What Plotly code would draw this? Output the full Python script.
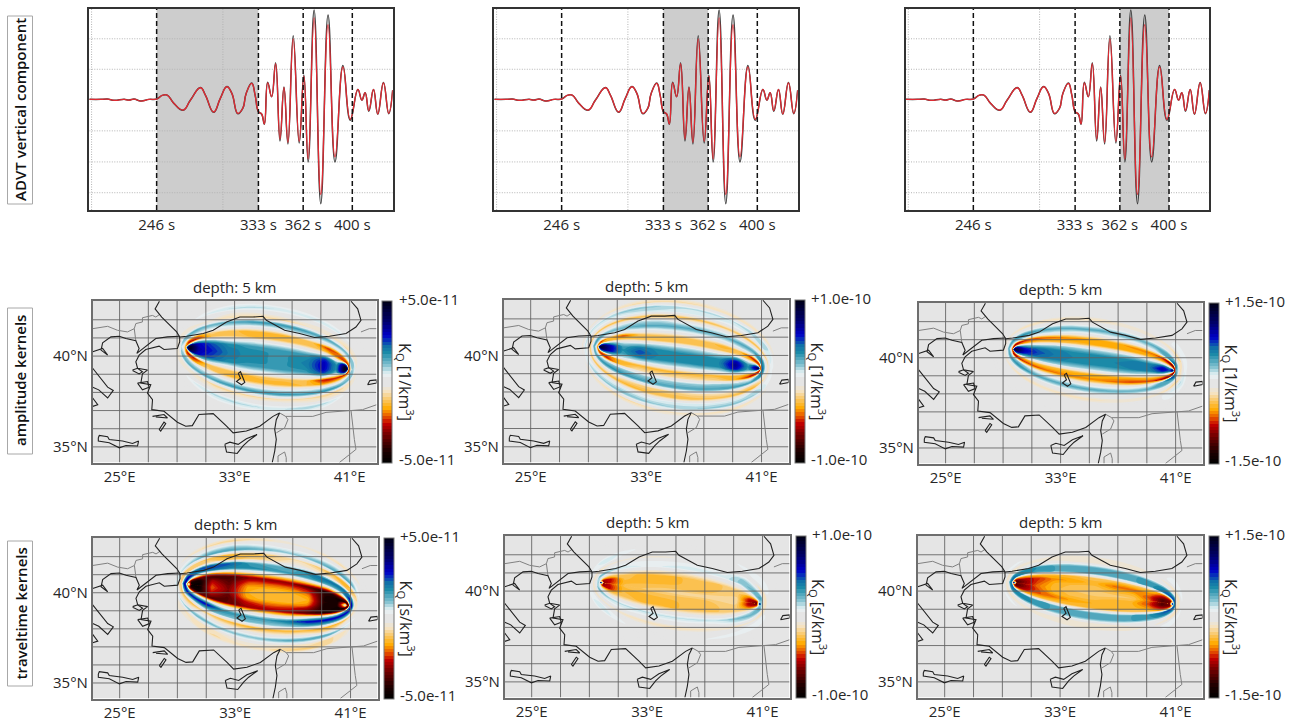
import numpy as np
import plotly.graph_objects as go

W, H = 1294, 721
FONT = "Open Sans"
TXT = "#262626"

# ---------- waveform ----------
wave_t = [0,11.7,18.3,25,35,40,45,51.7,60,67.7,73.3,78.3,85,94.3,101.7,111.7,116.7,125,131.7,138.3,143.3,149.3,154.3,157.7,163.3,166.7,170,173.3,176,179.3,183.3,187.3,191.7,195.7,199.7,205,211,215.7,220,226,232.7,240,247,255,262.3,270,274,277.3,281,285.7,290,295.7,301,305]
synth_amp = [0,0,.3,-1,0,-.7,.3,-1.7,0,.3,4,4.3,-4,-10.7,-.7,11.7,4.3,-12.7,1,12.7,6,-14,-9,6,16,4.3,-12.3,-14.7,-24.7,16.7,2.7,36,-40,12,-43.3,61,-42.3,23.3,-60,82,-95.7,75.3,-58,32.7,-20,10,-.7,6.7,-11.3,10,-14.7,16.7,-14,9.3]
data_amp = [0,0,.3,-1,0,-.7,.3,-1.7,0,.3,4,4.3,-4,-11,-.7,12,4.3,-13,1,13,6,-14.5,-9,6,16.5,4.3,-12.3,-15,-25,17.3,2.7,37,-42,12.5,-45,64,-44,24.5,-63,90,-105,85,-63,34,-21,10,-.7,6.7,-12,10,-15,17,-14.5,9.3]
window_t = [67.7, 170, 215, 264.4]
window_labels = ["246 s", "333 s", "362 s", "400 s"]
wave_grid_amp = [61, 30.3, -31.7, -63, -94]
wave_grid_t = [2.3, 134.3]
shaded_windows = [(0, 1), (1, 2), (2, 3)]

# ---------- map lines, lon/lat ----------
coast_dark = [
 [(27.77,43.02),(27.47,42.6),(27.93,42.15),(28.51,41.69),(28.97,41.33),(29.18,41.05),(29.67,41.09),(30.82,41.24),(31.51,41.42),(32.44,41.88),(33.36,42.15),(34.28,42.15),(34.98,42.19),(35.21,41.97),(35.9,41.69),(36.48,41.42),(37.52,41.24),(38.56,41.02),(39.6,41.09),(40.75,41.24),(41.44,41.6),(41.79,41.97),(41.56,42.6),(41.1,43.02)],
 [(29.18,41.05),(29.18,40.78),(29.02,40.42),(28.09,40.36),(27.75,40.55),(27.29,40.47),(26.82,40.36),(26.36,40.05),(26.13,39.69),(26.25,39.33),(26.94,39.23),(26.59,39.02),(26.48,38.51),(27.17,38.42),(26.94,37.96),(27.29,37.6),(27.24,37.05),(28.09,36.96),(28.56,36.68),(29.02,36.36),(29.6,36.14),(30.06,36.17),(30.52,36.78),(31.21,36.83),(31.51,36.83),(32.44,36.14),(32.9,35.77),(33.82,35.87),(34.75,36.14),(35.67,36.68),(36.13,36.87),(35.9,36.5),(35.79,35.96),(35.9,35.41),(35.79,34.77),(35.62,34.14)],
 [(29.18,41.09),(28.33,41.06),(27.52,40.97),(26.94,40.6),(26.59,40.42),(26.2,40.15),(26.36,40.42),(26.13,40.84),(25.44,40.97),(24.98,41.09),(24.4,41.06),(23.82,40.73),(23.71,40.33),(24.17,40.05),(23.82,40.42),(23.13,40.24)],
 [(23.13,39.33),(23.48,38.96),(24.17,38.29),(24.56,38.11),(24.17,37.69),(23.55,38.14),(23.13,38.29)],
 [(23.13,37.69),(23.48,37.32),(23.13,37.23)],
 [(25.9,39.23),(26.25,39.33),(26.59,39.14),(26.36,39.02),(25.9,39.2)],
 [(26.25,38.51),(26.94,38.6),(27.06,38.29),(26.59,38.14),(26.25,38.51)],
 [(27.29,36.68),(28.09,36.78),(28.33,36.59),(27.52,36.65)],
 [(27.75,35.96),(28.09,36.36),(28.21,36.28),(27.86,35.87),(27.75,35.96)],
 [(23.52,35.5),(23.59,35.63),(24.17,35.56),(24.28,35.41),(25.21,35.32),(25.9,35.19),(26.32,35.32),(26.25,35.05),(25.44,35.08),(24.98,34.95),(24.28,35.23),(23.52,35.32),(23.52,35.5)],
 [(32.32,35.14),(32.44,34.72),(33.18,34.64),(33.59,35.05),(33.94,35.32),(34.56,35.68),(33.82,35.45),(33.25,35.14),(32.67,35.26),(32.32,35.14)],
 [(33.25,39.05),(33.41,38.78),(33.13,38.6),(33.48,38.42),(33.71,38.55),(33.41,39.14),(33.25,39.05)],
 [(42.25,38.42),(42.87,38.51),(42.87,38.69),(42.41,38.65),(42.25,38.42)],
]
border_grey = [
 [(23.13,41.51),(24.17,41.64),(24.86,41.42),(25.55,41.33),(26.02,41.51),(26.13,41.79),(26.59,41.88),(26.59,42.11),(27.29,42.24),(27.52,42.15),(27.8,42.3)],
 [(26.02,41.51),(26.13,40.84)],
 [(36.13,36.87),(36.55,36.68),(36.71,36.5),(36.48,36.05),(35.9,35.77)],
 [(36.55,36.68),(37.52,36.68),(38.44,36.68),(39.36,36.9),(40.75,36.96),(41.9,37.05),(42.87,37.32)],
 [(41.1,37.0),(41.21,36.14),(41.33,35.41),(41.44,34.86),(40.29,34.14)],
 [(36.02,34.14),(36.02,34.5),(36.48,34.72),(36.59,34.41),(36.59,34.14)],
 [(41.79,41.33),(42.37,41.51),(42.87,41.51)],
]
grid_lon = [25,27,29,31,33,35,37,39,41]
grid_lat = [35,36,37,38,39,40,41,42]

# ---------- kernels: value in percent of clip, on confocal (Fresnel-zone) rows
# rows: distance from ray at mid-path; columns: stations from source to receiver.
A_top = [
 [95,95,65,55,42,36,34,34,40,62,35,95,95],
 [95,95,62,52,40,36,34,34,38,60,35,95,95],
 [85,80,60,48,36,32,30,30,32,50,25,90,80],
 [40,-10,25,18,5,8,8,8,6,12,-10,40,-20],
 [-30,-55,-50,-25,-22,-26,-25,-24,-22,-28,-45,-55,-55],
 [-20,-35,-35,-20,-24,-28,-28,-26,-24,-48,-40,-25,-15],
 [8,18,15,10,8,5,5,8,8,5,8,20,18],
 [15,25,28,25,28,32,33,33,30,28,25,22,15],
 [-5,-8,-10,-8,-14,-16,-16,-15,-10,-12,-15,-10,-5],
 [-8,-8,-5,-2,-5,-5,-2,0,-5,-5,-8,-6,-3],
 [3,3,4,10,14,16,14,12,14,12,5,3,2],
 [0,0,0,2,3,2,2,3,2,2,0,0,0],
 [0,0,0,0,0,0,0,0,0,0,0,0,0]]
A_bot = [
 [95,62,52,40,36,34,34,38,60,35,95],
 [80,60,48,36,32,30,30,32,50,25,90],
 [-10,25,18,5,8,8,8,6,12,-10,40],
 [-55,-50,-25,-24,-26,-25,-25,-24,-52,-50,-55],
 [-35,-35,-20,-26,-28,-28,-28,-26,-35,-30,-25],
 [18,15,12,8,5,5,8,8,8,10,20],
 [25,28,28,32,33,33,33,32,35,30,22],
 [-8,-10,-12,-18,-16,-16,-15,-15,-18,-15,-10],
 [-8,-5,-5,-5,-2,0,0,-5,-8,-12,-6],
 [3,4,12,16,16,14,14,18,15,5,3],
 [0,0,2,5,3,2,3,5,2,0,0],
 [0,0,0,0,0,0,0,0,0,0,0]]
B_top = [
 [95,90,65,35,50,38,36,36,38,70,35,75,95],
 [95,85,62,30,42,36,34,34,34,62,30,60,90],
 [60,50,30,15,15,15,15,14,15,30,10,20,50],
 [-10,-30,-25,-20,-22,-24,-24,-24,-24,-20,-28,-40,-65],
 [-35,-50,-30,-45,-24,-23,-24,-23,-28,-26,-50,-50,-25],
 [5,15,5,5,5,5,5,5,5,10,10,35,50],
 [30,32,25,25,28,28,28,28,25,30,30,36,25],
 [5,5,5,10,15,15,8,8,8,5,5,5,0],
 [-22,-22,-25,-26,-26,-26,-24,-24,-22,-25,-26,-18,-12],
 [0,5,8,8,12,12,10,10,8,8,15,12,8],
 [15,15,15,18,20,18,15,15,14,18,18,10,5],
 [-8,-8,-8,-12,-15,-15,-15,-14,-14,-14,-12,-6,-4],
 [0,0,0,0,0,0,0,0,0,0,0,0,0]]
B_bot = [
 [85,62,30,42,36,34,34,34,62,30,60],
 [50,30,15,12,10,8,8,10,22,10,20],
 [-30,-40,-28,-28,-28,-28,-28,-28,-26,-32,-45],
 [-50,-50,-28,-15,-15,-15,-15,-18,-30,-50,-55],
 [10,15,20,20,18,18,18,20,15,10,30],
 [30,35,35,32,30,30,30,30,32,30,36],
 [0,0,-5,-15,-18,-18,-15,-12,-10,-15,-5],
 [-22,-25,-26,-28,-26,-26,-24,-24,-26,-28,-14],
 [5,8,10,10,8,10,10,10,10,15,8],
 [12,18,20,22,20,18,18,20,20,18,8],
 [-6,-10,-14,-15,-14,-12,-12,-14,-14,-10,-4],
 [0,0,0,0,0,0,0,0,0,0,0]]
C_top = [
 [95,90,62,50,42,38,38,38,40,42,65,50,95],
 [95,80,55,45,40,36,36,36,38,38,52,40,92],
 [60,45,25,20,20,18,15,15,15,10,12,0,45],
 [-50,-45,-32,-24,-26,-28,-30,-30,-30,-28,-33,-50,-60],
 [-30,-60,-50,-45,-40,-36,-33,-33,-36,-40,-55,-70,-40],
 [5,15,20,10,8,3,2,5,5,10,30,50,25],
 [28,32,35,30,28,28,28,26,25,28,30,25,15],
 [5,8,5,2,2,2,2,2,3,2,0,-12,-15],
 [-10,-10,-12,-14,-12,-12,-12,-10,-10,-10,-15,-15,-5],
 [-2,0,2,3,2,0,0,0,0,2,8,10,10],
 [3,3,5,5,3,2,0,0,0,2,8,8,5],
 [0,0,0,0,0,0,0,0,0,0,2,2,0],
 [0,0,0,0,0,0,0,0,0,0,0,0,0]]
C_bot = [
 [80,55,45,40,36,36,36,38,38,52,40],
 [45,25,20,20,18,15,15,15,10,12,0],
 [-45,-32,-24,-26,-28,-30,-30,-30,-28,-33,-50],
 [-60,-50,-45,-40,-38,-36,-40,-46,-46,-60,-70],
 [15,20,10,5,3,0,2,3,8,30,55],
 [32,35,30,28,28,28,26,25,28,30,30],
 [8,5,2,2,2,2,2,3,2,0,-12],
 [-10,-12,-14,-12,-12,-12,-10,-10,-10,-15,-15],
 [0,2,3,2,0,0,0,0,2,10,15],
 [3,5,5,3,2,0,0,0,2,10,10],
 [0,0,0,0,0,0,0,0,0,3,2],
 [0,0,0,0,0,0,0,0,0,0,0]]
D_top = [
 [20,-95,-95,-42,-62,-30,-26,-26,-30,-85,-90,5,-70],
 [15,-90,-95,-48,-66,-32,-28,-28,-36,-88,-90,-30,-90],
 [5,-80,-90,-58,-72,-44,-40,-40,-50,-85,-92,-85,-80],
 [-40,-60,-70,-78,-76,-62,-60,-60,-72,-85,-70,-70,-50],
 [-10,20,-10,-30,-25,-18,-15,-18,-20,-30,-20,20,40],
 [70,65,40,45,38,36,34,32,32,28,30,60,65],
 [40,40,45,50,48,32,26,26,42,45,45,36,25],
 [-20,-22,-20,-15,-25,-20,-15,-5,-10,-15,-25,-14,-12],
 [-15,-20,-20,-25,-28,-25,-20,-15,-20,-28,-28,-20,-8],
 [15,15,20,28,30,28,22,20,25,30,30,8,4],
 [3,4,8,10,12,8,5,5,8,10,8,4,0],
 [-2,-3,-10,-15,-18,-15,-10,-8,-12,-15,-10,-2,-2],
 [0,0,0,0,3,3,2,2,3,3,0,0,0]]
D_bot = [
 [-90,-95,-48,-66,-32,-28,-28,-36,-88,-90,-30],
 [-80,-90,-58,-72,-50,-42,-45,-58,-88,-92,-85],
 [-50,-60,-72,-70,-60,-58,-60,-72,-85,-78,-60],
 [25,15,5,-5,-5,-5,-8,0,5,10,40],
 [60,58,60,35,32,32,40,60,62,62,60],
 [28,15,25,25,22,20,20,25,30,32,26],
 [-25,-25,-20,-25,-28,-28,-28,-28,-30,-28,-16],
 [-12,-10,5,-5,-5,-5,-5,-5,-15,-5,-4],
 [12,20,25,22,22,22,28,30,30,15,6],
 [-4,-10,-12,-10,-5,-5,-10,-10,-15,-10,-2],
 [-3,-8,-10,-15,-12,-12,-18,-20,-15,-5,-1],
 [0,0,2,3,3,3,5,5,3,0,0]]
E_top = [
 [95,-65,-45,-25,-22,-18,-15,-15,-15,-15,-55,-70,95],
 [90,-60,-50,-28,-26,-25,-25,-25,-20,-18,-55,-60,90],
 [-10,-55,-50,-25,-28,-28,-26,-24,-22,-20,-40,-30,60],
 [10,-20,-25,-22,-28,-28,-26,-24,-22,-18,-12,20,20],
 [20,10,-5,-5,-8,-10,-10,-8,-5,-3,20,30,10],
 [10,25,20,12,10,10,12,12,12,20,25,25,-15],
 [-4,-3,5,8,8,8,8,8,8,20,12,-10,-14],
 [-10,-12,-10,-8,-8,-8,-5,-5,-5,5,-10,-10,-6],
 [4,6,10,5,3,5,5,5,3,5,8,6,5],
 [5,8,12,10,5,5,3,5,5,8,10,5,2],
 [0,0,0,-3,-5,-5,-3,-3,-3,0,3,2,0],
 [0,0,0,0,-2,-3,-2,-2,0,0,0,0,0],
 [0,0,0,0,0,0,0,0,0,0,0,0,0]]
E_bot = [
 [-60,-50,-28,-26,-25,-25,-25,-20,-18,-55,-60],
 [-55,-50,-25,-28,-28,-26,-24,-22,-20,-40,-30],
 [-20,-25,-22,-26,-26,-26,-24,-22,-18,-12,20],
 [10,-5,-5,-5,-5,-5,-5,-5,0,15,30],
 [25,20,15,15,15,15,15,15,22,25,25],
 [-3,5,8,5,3,3,3,5,12,12,-10],
 [-12,-10,-10,-12,-12,-12,-12,-10,-12,-10,-10],
 [6,10,5,0,0,0,2,3,5,8,6],
 [8,12,10,5,3,3,5,8,10,10,5],
 [0,0,-3,-5,-5,-5,-5,-5,-5,0,2],
 [0,0,0,0,0,0,0,0,0,0,0],
 [0,0,0,0,0,0,0,0,0,0,0]]
F_top = [
 [95,-70,-60,-40,-28,-22,-20,-20,-22,-40,-70,-60,95],
 [92,-75,-62,-45,-30,-25,-24,-28,-30,-45,-72,-65,90],
 [-20,-65,-55,-48,-36,-33,-28,-40,-40,-36,-58,-60,20],
 [-10,-32,-28,-28,-28,-26,-24,-24,-22,-24,-38,-20,30],
 [45,48,38,32,30,30,30,30,30,34,48,55,45],
 [30,34,36,34,30,30,30,30,30,32,38,28,-10],
 [-4,-5,-3,-4,-5,-6,-6,-6,-4,-2,-2,-10,-14],
 [-10,-12,-10,-8,-8,-8,-8,-8,-8,-5,-10,-10,-6],
 [3,8,8,2,0,0,0,0,0,2,10,10,4],
 [3,4,3,2,0,0,0,0,0,2,8,4,0],
 [0,0,0,0,0,0,0,0,0,0,0,0,0],
 [0,0,0,0,0,0,0,0,0,0,0,0,0],
 [0,0,0,0,0,0,0,0,0,0,0,0,0]]
F_bot = [
 [-75,-62,-45,-30,-25,-24,-28,-30,-45,-72,-65],
 [-65,-55,-43,-40,-33,-30,-28,-28,-36,-58,-60],
 [-32,-28,-26,-25,-26,-26,-26,-25,-24,-38,-20],
 [48,38,32,30,28,28,28,30,34,48,55],
 [34,38,34,30,30,30,30,30,32,38,28],
 [-5,-3,-4,-5,-6,-6,-6,-4,-2,-2,-10],
 [-12,-10,-8,-8,-8,-8,-8,-8,-5,-10,-10],
 [8,8,2,0,0,0,0,0,2,10,10],
 [4,3,2,0,0,0,0,0,2,8,4],
 [0,0,0,0,0,0,0,0,0,0,0],
 [0,0,0,0,0,0,0,0,0,0,0],
 [0,0,0,0,0,0,0,0,0,0,0]]

source = (29.78, 40.47)
receiver = (40.8, 39.29)
cscale = [[0,"#000000"],[.07,"#1a0000"],[.17,"#6e0000"],[.245,"#c40000"],[.29,"#e85a00"],[.337,"#ffaa00"],[.44,"#f5e2c0"],
          [.48,"#e5e5e5"],[.52,"#e5e5e5"],[.55,"#e9f3f5"],[.6,"#88c4d2"],[.68,"#1b8aa8"],[.72,"#1070a8"],[.786,"#0000c8"],[.87,"#00006e"],[1,"#000015"]]

panels = [
 dict(box=(92.7,300.7,376.5,462.5), top=A_top, bot=A_bot, hi="+5.0e-11", lo="-5.0e-11", unit="1/km"),
 dict(box=(503.7,299.7,788.5,462.5), top=B_top, bot=B_bot, hi="+1.0e-10", lo="-1.0e-10", unit="1/km"),
 dict(box=(918.7,302.7,1202.5,463.5), top=C_top, bot=C_bot, hi="+1.5e-10", lo="-1.5e-10", unit="1/km"),
 dict(box=(92.7,537.7,377.5,698.5), top=D_top, bot=D_bot, hi="+5.0e-11", lo="-5.0e-11", unit="s/km"),
 dict(box=(504.7,535.7,789.5,697.5), top=E_top, bot=E_bot, hi="+1.0e-10", lo="-1.0e-10", unit="s/km"),
 dict(box=(917.7,535.7,1202.5,697.5), top=F_top, bot=F_bot, hi="+1.5e-10", lo="-1.5e-10", unit="s/km"),
]
wave_boxes = [(89.3,9,392.7,210),(494.3,9,797.7,210),(906,9,1209.4,210)]

fig = go.Figure()
layout = dict(width=W, height=H, margin=dict(l=0,r=0,t=0,b=0,autoexpand=False), paper_bgcolor="white",
              plot_bgcolor="white", showlegend=False, font=dict(family=FONT, size=15, color=TXT))
shapes, annos = [], []

def dom(box):
    x0,y0,x1,y1 = box
    return [x0/W, x1/W], [1-y1/H, 1-y0/H]

def seglines(lines):
    xs, ys = [], []
    for l in lines:
        xs += [p[0] for p in l] + [None]
        ys += [p[1] for p in l] + [None]
    return xs, ys

def label(x, y, text, size=15, color=TXT, xanchor="center", angle=0, weight=None):
    f = dict(size=size, family=FONT, color=color)
    if weight: f["weight"] = weight
    annos.append(dict(xref="paper", yref="paper", x=x/W, y=1-y/H, text=text, showarrow=False, font=f,
                      xanchor=xanchor, yanchor="middle", textangle=angle))

# ---- waveform panels ----
for i, box in enumerate(wave_boxes):
    n = i+1
    xa, ya = ("x" if n==1 else f"x{n}"), ("y" if n==1 else f"y{n}")
    xk, yk = ("xaxis" if n==1 else f"xaxis{n}"), ("yaxis" if n==1 else f"yaxis{n}")
    dx, dy = dom(box)
    layout[xk] = dict(domain=dx, range=[0,305], anchor=ya, showgrid=False, zeroline=False, mirror=True, showline=True,
                      linecolor="#333333", linewidth=1.6, tickmode="array", tickvals=window_t, ticktext=window_labels,
                      ticks="", ticklabelstandoff=0, tickfont=dict(size=15, family=FONT, color=TXT), layer="above traces")
    layout[yk] = dict(domain=dy, range=[-111.4,91], anchor=xa, showgrid=False, zeroline=False, mirror=True, showline=True,
                      linecolor="#333333", linewidth=1.6, showticklabels=False, ticks="", layer="above traces")
    a, b = shaded_windows[i]
    shapes.append(dict(type="rect", xref=xa, yref=ya, x0=window_t[a], x1=window_t[b], y0=-111.4, y1=91,
                       fillcolor="#cdcdcd", line=dict(width=0), layer="below"))
    gx, gy = [], []
    for v in wave_grid_amp:
        gx += [0,305,None]; gy += [v,v,None]
    for v in wave_grid_t:
        gx += [v,v,None]; gy += [-111.4,91,None]
    fig.add_trace(go.Scatter(x=gx, y=gy, xaxis=xa, yaxis=ya, mode="lines", hoverinfo="skip",
                             line=dict(color="#b4b4b4", width=1, dash="1px,1.5px")))
    fig.add_trace(go.Scatter(x=wave_t, y=data_amp, xaxis=xa, yaxis=ya, mode="lines",
                             line=dict(color="#404040", width=1.5, shape="spline", smoothing=1.3)))
    fig.add_trace(go.Scatter(x=wave_t, y=synth_amp, xaxis=xa, yaxis=ya, mode="lines",
                             line=dict(color="#e02a32", width=1.3, shape="spline", smoothing=1.3)))
    vx, vy = [], []
    for v in window_t:
        vx += [v,v,None]; vy += [-111.4,91,None]
    fig.add_trace(go.Scatter(x=vx, y=vy, xaxis=xa, yaxis=ya, mode="lines", hoverinfo="skip",
                             line=dict(color="#111111", width=1.5, dash="5px,3px")))

# ---- kernel geometry: confocal ellipses round source and receiver ----
SX, SY = 14.44, 18.3
sp = np.array([source[0]*SX, source[1]*SY]); rp = np.array([receiver[0]*SX, receiver[1]*SY])
cen = (sp+rp)/2; c = np.linalg.norm(rp-sp)/2; e = (rp-sp)/(2*c); nrm = np.array([-e[1], e[0]])
row_u = np.arange(13)*15/240
mu = np.arcsinh(row_u)
nu = np.radians(180-15*np.arange(25))
MU, NU = np.meshgrid(mu, nu, indexing="ij")
PX = cen[0] + c*np.cosh(MU)*np.cos(NU)*e[0] + c*np.sinh(MU)*np.sin(NU)*nrm[0]
PY = cen[1] + c*np.cosh(MU)*np.cos(NU)*e[1] + c*np.sinh(MU)*np.sin(NU)*nrm[1]
LON, LAT = PX/SX, PY/SY

def table(top, bot):
    rows = []
    for r in range(13):
        lower = top[0][11:0:-1] if r == 0 else bot[r-1][::-1]
        rows.append(list(top[r]) + list(lower) + [top[r][0]])
    return rows

gx_, gy_ = [], []
for v in grid_lon:
    gx_ += [v,v,None]; gy_ += [34.14,43.05,None]
for v in grid_lat:
    gx_ += [23.13,42.87,None]; gy_ += [v,v,None]
cx_, cy_ = seglines(coast_dark)
bx_, by_ = seglines(border_grey)

for i, p in enumerate(panels):
    n = i+4
    xa, ya, xk, yk = f"x{n}", f"y{n}", f"xaxis{n}", f"yaxis{n}"
    dx, dy = dom(p["box"])
    layout[xk] = dict(domain=dx, range=[23.13,42.87], anchor=ya, showgrid=False, zeroline=False, mirror=True, showline=True,
                      linecolor="#6e6e6e", linewidth=1.6, tickmode="array", tickvals=[25,33,41],
                      ticktext=["25°E","33°E","41°E"], ticks="", ticklabelstandoff=0, layer="above traces",
                      tickfont=dict(size=15, family=FONT, color=TXT))
    layout[yk] = dict(domain=dy, range=[34.14,43.05], anchor=xa, showgrid=False, zeroline=False, mirror=True, showline=True,
                      linecolor="#6e6e6e", linewidth=1.6, tickmode="array", tickvals=[35,40],
                      ticktext=["35°N","40°N"], ticks="", ticklabelstandoff=0, layer="above traces",
                      tickfont=dict(size=15, family=FONT, color=TXT))
    shapes.append(dict(type="rect", xref=xa, yref=ya, x0=23.13, x1=42.87, y0=34.14, y1=43.05,
                       fillcolor="#e5e5e5", line=dict(width=0), layer="below"))
    cid = f"k{i}"
    hide = dict(showgrid=False, minorgridcount=0, showline=False, startline=False, endline=False,
                showticklabels="none", smoothing=1, tickmode="array", tickvals=[])
    fig.add_trace(go.Carpet(carpet=cid, a=list(range(25)), b=list(range(13)), x=LON.tolist(), y=LAT.tolist(),
                            xaxis=xa, yaxis=ya, aaxis=hide, baxis=hide))
    x0,y0,x1,y1 = p["box"]
    fig.add_trace(go.Contourcarpet(carpet=cid, a=list(range(25)), b=list(range(13)), z=table(p["top"],p["bot"]),
        xaxis=xa, yaxis=ya, autocontour=False, colorscale=cscale, zmin=-100, zmax=100,
        contours=dict(start=-102,end=102,size=4,coloring="fill",showlines=False), line=dict(width=0),
        colorbar=dict(thickness=10, thicknessmode="pixels", len=y1-y0, lenmode="pixels", x=(x1+6)/W, xanchor="left",
                      xref="paper", yref="paper", y=1-y0/H, yanchor="top", xpad=0, ypad=0, showticklabels=False,
                      ticks="", outlinewidth=1, outlinecolor="#777777")))
    # background-coloured edge hides the anti-aliased rim of the stacked contour fills
    fig.add_trace(go.Scatter(x=LON[-1].tolist(), y=LAT[-1].tolist(), xaxis=xa, yaxis=ya, mode="lines", hoverinfo="skip",
                             line=dict(color="#e5e5e5", width=3, shape="spline", smoothing=1)))
    fig.add_trace(go.Scatter(x=gx_, y=gy_, xaxis=xa, yaxis=ya, mode="lines", hoverinfo="skip",
                             line=dict(color="rgba(95,95,95,0.85)", width=1)))
    fig.add_trace(go.Scatter(x=bx_, y=by_, xaxis=xa, yaxis=ya, mode="lines", hoverinfo="skip",
                             line=dict(color="#808080", width=1)))
    fig.add_trace(go.Scatter(x=cx_, y=cy_, xaxis=xa, yaxis=ya, mode="lines", hoverinfo="skip",
                             line=dict(color="#222222", width=1.1)))
    label((x0+x1)/2, y0-14, "depth: 5 km")
    label(x1+20, y0-2, p["hi"], xanchor="left")
    label(x1+20, y1-4, p["lo"], xanchor="left")
    label(x1+29, (y0+y1)/2, "K<sub>Q</sub> ["+p["unit"]+"<sup>3</sup>]", size=16, angle=90)

row_labels = [("ADVT vertical component",16,204),("amplitude kernels",308,454),("traveltime kernels",541,686)]
for text, y0, y1 in row_labels:
    shapes.append(dict(type="rect", xref="paper", yref="paper", x0=7.5/W, x1=32.5/W, y0=1-y1/H, y1=1-y0/H,
                       line=dict(color="#a8a8a8", width=1), fillcolor="white", layer="below"))
    label(20, (y0+y1)/2, text, color="#111111", angle=-90, weight=600)

layout["shapes"] = shapes
layout["annotations"] = annos
fig.update_layout(**layout)
fig.write_html("out.html", post_script="document.body.style.margin='0';", config={"displayModeBar": False})
